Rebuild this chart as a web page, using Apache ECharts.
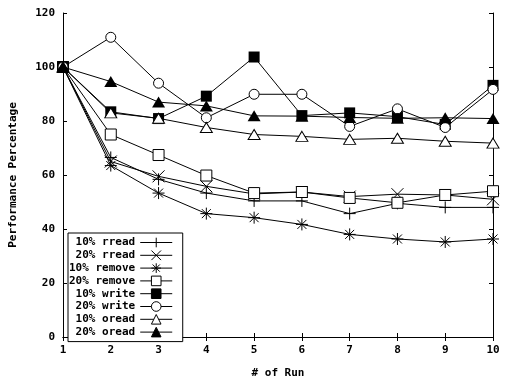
<!DOCTYPE html>
<html><head><meta charset="utf-8">
<script src="https://cdn.jsdelivr.net/npm/echarts@6/dist/echarts.min.js"></script>
<style>html,body{margin:0;padding:0;background:#fff}#c{width:512px;height:384px}</style>
</head><body><div id="c"></div>
<script>
const runs = [1,2,3,4,5,6,7,8,9,10];
const yTicks = [0,20,40,60,80,100,120];
const names = ['10% rread','20% rread','10% remove','20% remove','10% write','20% write','10% oread','20% oread'];
const rread10  = [100,66.5,58.4,53.3,50.4,50.4,45.7,49.5,48,48];
const rread20  = [100,65,59.5,55.8,53,53.7,52,52.9,52.6,51];
const remove10 = [100,63.5,53.3,45.7,44.2,41.7,38,36.3,35.2,36.3];
const remove20 = [100,75,67.4,59.8,53.3,53.7,51.5,49.7,52.6,54];
const write10  = [100,83.4,80.9,89.2,103.7,82,83,81.6,78.7,93.2];
const write20  = [100,111,94,81.2,89.9,89.9,78,84.5,77.6,91.7];
const oread10  = [100,83,81,77.6,75,74.3,73.2,73.6,72.5,71.8];
const oread20  = [100,94.6,87,85.6,81.9,81.8,81.3,81,81.2,80.9];

const FONT = 'DejaVu Sans Mono';
const pts = arr => arr.map((v,i)=>[runs[i],v]);
const strokeStyle = {color:'rgba(0,0,0,0)', borderColor:'#000', borderWidth:1};
const openStyle = {color:'#fff', borderColor:'#000', borderWidth:1};
const fillStyle = {color:'#000', borderColor:'#000', borderWidth:0};
const defs = [
  [rread10, 'path://M6,0V12M0,6H12', 12, strokeStyle],
  [rread20, 'path://M0,0L12,12M12,0L0,12', 12, strokeStyle],
  [remove10, 'path://M6,0V12M0,6H12M1.5,1.5L10.5,10.5M10.5,1.5L1.5,10.5', 12, strokeStyle],
  [remove20, 'rect', 11, openStyle],
  [write10, 'rect', 11, fillStyle],
  [write20, 'circle', 10, openStyle],
  [oread10, 'triangle', [12,10], openStyle],
  [oread20, 'triangle', [13,11], fillStyle]
];
const legendNames = names.map(n => n.length < 10 ? ' '+n : n);
const series = defs.map((d,i)=>({
  name: legendNames[i], type:'line', data: pts(d[0]),
  symbol: d[1], symbolSize: d[2], showSymbol:true,
  itemStyle: d[3], lineStyle:{color:'#000', width:1},
  z: 2+i
}));

const chart = echarts.init(document.getElementById('c'), null, {renderer:'canvas'});
chart.setOption({
  animation:false,
  backgroundColor:'#fff',
  grid:{left:62, right:19, top:13, bottom:40},
  legend:{
    left:68, top:233, orient:'vertical', align:'right',
    itemWidth:32, itemHeight:12, itemGap:1.8,
    padding:[4,10,4,1],
    borderColor:'#000', borderWidth:1, backgroundColor:'#fff',
    selectedMode:false,
    itemStyle:{borderWidth:1},
    lineStyle:{width:1},
    textStyle:{fontFamily:FONT, fontWeight:'bold', fontSize:11, color:'#000'},
    data: legendNames
  },
  xAxis:[{
    type:'value', min:1, max:10, interval:1, position:'bottom',
    name:'# of Run', nameLocation:'middle', nameGap:31,
    nameTextStyle:{fontFamily:FONT, fontWeight:'bold', fontSize:11, color:'#000'},
    axisLine:{lineStyle:{color:'#000'}},
    axisTick:{inside:true, length:4, lineStyle:{color:'#000'}},
    axisLabel:{fontFamily:FONT, fontWeight:'bold', fontSize:11, color:'#000', margin:8},
    splitLine:{show:false}
  },{
    type:'value', min:1, max:10, interval:1, position:'top',
    axisLine:{lineStyle:{color:'#000'}},
    axisTick:{inside:true, length:4, lineStyle:{color:'#000'}},
    axisLabel:{show:false}, splitLine:{show:false}
  }],
  yAxis:[{
    type:'value', min:0, max:120, interval:20, position:'left',
    name:'Performance Percentage', nameLocation:'middle', nameGap:44,
    nameTextStyle:{fontFamily:FONT, fontWeight:'bold', fontSize:11, color:'#000'},
    axisLine:{show:true, lineStyle:{color:'#000'}},
    axisTick:{show:true, inside:true, length:4, lineStyle:{color:'#000'}},
    axisLabel:{fontFamily:FONT, fontWeight:'bold', fontSize:11, color:'#000', margin:8,
      formatter: v => yTicks.includes(v) ? String(v) : ''},
    splitLine:{show:false}
  },{
    type:'value', min:0, max:120, interval:20, position:'right',
    axisLine:{show:true, lineStyle:{color:'#000'}},
    axisTick:{show:true, inside:true, length:4, lineStyle:{color:'#000'}},
    axisLabel:{show:false}, splitLine:{show:false}
  }],
  series: series
});
</script></body></html>
